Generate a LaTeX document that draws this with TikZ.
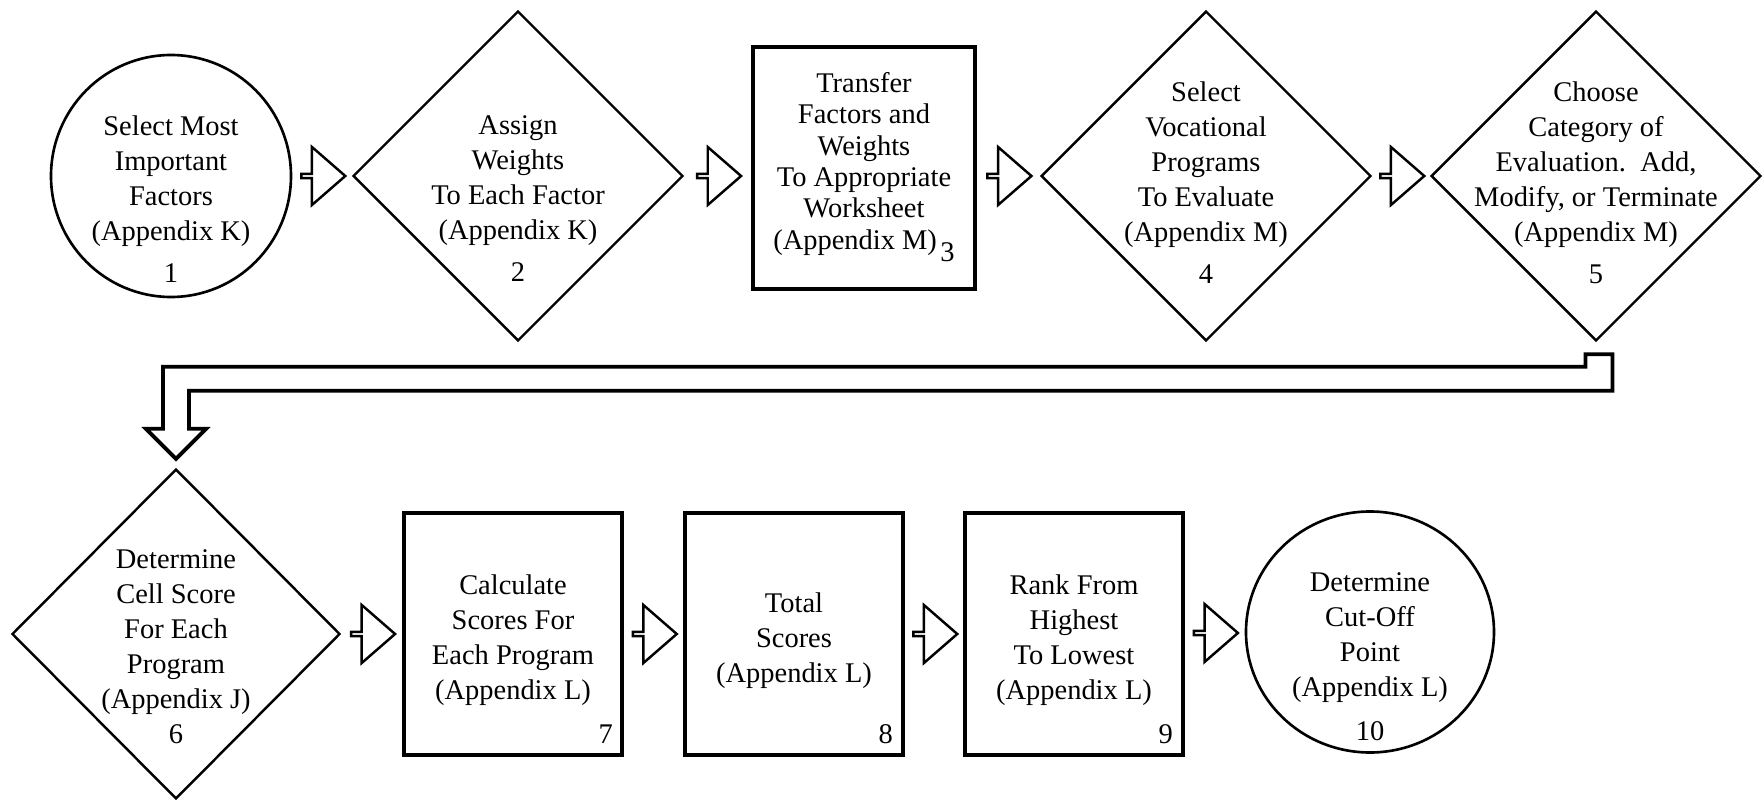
\documentclass[tikz,border=0pt]{standalone}
\usepackage{fontspec}
\setmainfont{Liberation Serif}
\usetikzlibrary{shapes.geometric,shapes.arrows,calc}

\begin{document}
\begin{tikzpicture}[
  oval/.style={ellipse,draw,line width=0.75pt,inner sep=0pt},
  dmd/.style={diamond,draw,line width=0.7pt,inner sep=0pt,
              minimum width=3.3cm,minimum height=3.3cm},
  box/.style={rectangle,draw,line width=0.9pt,
              minimum width=2.18cm,minimum height=2.42cm},
  txt/.style={align=center,inner sep=0pt,font=\fontsize{8.1}{9.96}\selectfont},
  num/.style={inner sep=0pt,anchor=south east,font=\fontsize{8.1}{9.96}\selectfont},
  fat/.style={single arrow,draw,line width=0.7pt,inner sep=0pt,
              minimum height=0.44cm,minimum width=0.58cm,
              single arrow head extend=0.15cm,single arrow tip angle=82},
  pipe/.style={line width=1.1pt,line join=miter}]
\useasboundingbox (0,0) rectangle (17.63,7.99);

% first row
\node[oval,minimum width=2.40cm,minimum height=2.42cm] (sel) at (1.71,6.23) {};
\node[dmd] (wgt) at (5.18,6.23) {};
\node[box,minimum width=2.22cm] (xfer) at (8.64,6.31) {};
\node[dmd] (prog) at (12.06,6.23) {};
\node[dmd] (cat) at (15.96,6.23) {};

\node[txt] (sel-t) at (1.71,6.00)
  {Select Most\\Important\\Factors\\(Appendix K)\\[2pt]1};
\node[txt] (wgt-t) at (5.18,6.00)
  {Assign\\Weights\\To Each Factor\\(Appendix K)\\[2pt]2};
\node[txt,font=\fontsize{8.1}{8.93}\selectfont] (xfer-t) at (8.64,6.32)
  {Transfer\\Factors and\\Weights\\To Appropriate\\Worksheet\\(Appendix M)\kern1pt\raisebox{-0.12cm}{3}};
\node[txt] (prog-t) at (12.06,6.165)
  {Select\\Vocational\\Programs\\To Evaluate\\(Appendix M)\\[2pt]4};
\node[txt] (cat-t) at (15.96,6.165)
  {Choose\\Category of\\Evaluation.\ \ Add,\\Modify, or Terminate\\(Appendix M)\\[2pt]5};

\node[fat] (a1) at ($(sel.east)!.5!(wgt.west)$) {};
\node[fat] (a2) at ($(wgt.east)!.5!(xfer.west |- wgt.east)$) {};
\node[fat] (a3) at ($(xfer.east |- prog.west)!.5!(prog.west)$) {};
\node[fat] (a4) at ($(prog.east)!.5!(cat.west)$) {};

% second row
\node[dmd,minimum width=3.28cm] (cell) at (1.76,1.65) {};
\node[box] (score) at (5.13,1.65) {};
\node[box] (total) at (7.94,1.65) {};
\node[box] (rank) at (10.74,1.65) {};
\node[oval,minimum width=2.48cm,minimum height=2.41cm] (cut) at (13.70,1.67) {};

\node[txt] (cell-t) at (1.76,1.52)
  {Determine\\Cell Score\\For Each\\Program\\(Appendix J)\\6};
\node[txt] (score-t) at (5.13,1.59)
  {Calculate\\Scores For\\Each Program\\(Appendix L)};
\node[txt] (total-t) at (7.94,1.585) {Total\\Scores\\(Appendix L)};
\node[txt] (rank-t) at (10.74,1.59)
  {Rank From\\Highest\\To Lowest\\(Appendix L)};
\node[txt] (cut-t) at (13.70,1.42)
  {Determine\\Cut-Off\\Point\\(Appendix L)\\[2.5pt]10};

\node[num] (score-n) at ([shift={(-0.10,0.12)}]score.south east) {7};
\node[num] (total-n) at ([shift={(-0.11,0.12)}]total.south east) {8};
\node[num] (rank-n) at ([shift={(-0.11,0.12)}]rank.south east) {9};

\node[fat] (a5) at ($(cell.east)!.5!(score.west)$) {};
\node[fat] (a6) at ($(score.east)!.5!(total.west)$) {};
\node[fat] (a7) at ($(total.east)!.5!(rank.west)$) {};
\node[fat] (a8) at ($(rank.east)!.5!(cut.west)$) {};

% hollow return pipe from 5 down to 6
\coordinate (tail) at ([shift={(0.03,-0.12)}]cat.south);
\coordinate (tip) at ([yshift=0.09cm]cell.north);
\coordinate (tailR) at ([xshift=0.135cm]tail);
\coordinate (tailL) at ([xshift=-0.135cm]tail);
\coordinate (inr) at ([shift={(0.13,0.68)}]tip);
\coordinate (otr) at ([shift={(-0.13,0.92)}]tip);
\draw[pipe] (tip) -- ++(0.30,0.30) -| (inr) -| (tailR) -| (tailL) |- (otr)
  -- ++(0,-0.62) -- ++(-0.17,0) -- cycle;
\end{tikzpicture}
\end{document}
